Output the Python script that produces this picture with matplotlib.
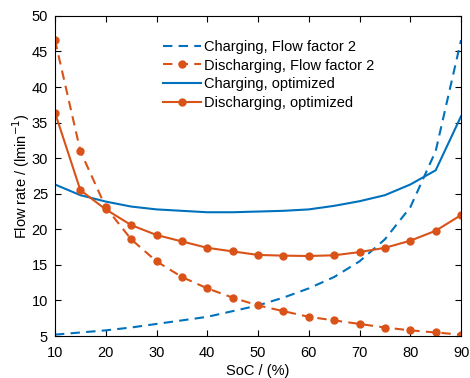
import matplotlib.pyplot as plt
import numpy as np

plt.rcParams['font.family'] = ['Liberation Sans', 'DejaVu Sans']

soc = np.arange(10, 95, 5)
dis_ff2 = [46.6, 31.0, 23.1, 18.6, 15.5, 13.3, 11.7, 10.4, 9.3, 8.5, 7.7, 7.2, 6.7, 6.2, 5.8, 5.5, 5.2]
chg_ff2 = dis_ff2[::-1]
chg_opt = [26.3, 24.8, 23.9, 23.2, 22.8, 22.6, 22.4, 22.4, 22.5, 22.6, 22.8, 23.3, 23.95, 24.8, 26.3, 28.3, 35.9]
dis_opt = [36.4, 25.5, 22.8, 20.6, 19.2, 18.3, 17.4, 16.9, 16.4, 16.3, 16.25, 16.35, 16.8, 17.4, 18.4, 19.8, 22.0]

blue = '#0072BD'
orange = '#D95319'

fig = plt.figure(figsize=(4.7, 3.78), dpi=100)
ax = fig.add_axes([0.117, 0.111, 0.864, 0.847])

dash = (4.5, 3)
ax.plot(soc, chg_ff2, '--', color=blue, lw=1.5, dashes=dash, label='Charging, Flow factor 2')
ax.plot(soc, dis_ff2, '--o', color=orange, lw=1.5, ms=5, dashes=dash, label='Discharging, Flow factor 2')
ax.plot(soc, chg_opt, '-', color=blue, lw=1.5, label='Charging, optimized')
ax.plot(soc, dis_opt, '-o', color=orange, lw=1.5, ms=5, label='Discharging, optimized')

ax.set_xlim(10, 90)
ax.set_ylim(5, 50)
ax.set_xticks(range(10, 91, 10))
ax.set_yticks(range(5, 51, 5))
ax.tick_params(direction='in', top=True, right=True, labelsize=10.5, length=4.5, pad=5)
ax.tick_params(axis='x', pad=7)
ax.set_xlabel('SoC / (%)', fontsize=10.5, labelpad=3)
ax.set_ylabel('Flow rate / (lmin$^{-1}$)', fontsize=10.5, labelpad=0)

ax.legend(loc='upper left', bbox_to_anchor=(0.266, 0.925), frameon=False, fontsize=10.5,
          handlelength=2.6, handletextpad=0.2, labelspacing=0.32, borderpad=0, borderaxespad=0)

fig.savefig('out.png', dpi=100)
